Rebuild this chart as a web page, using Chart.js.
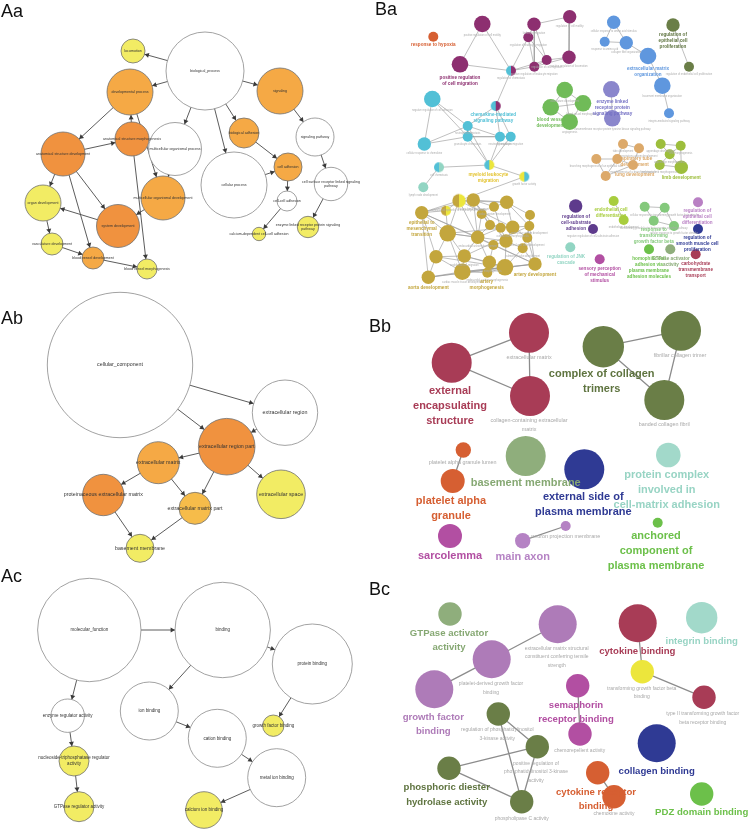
<!DOCTYPE html>
<html><head><meta charset="utf-8">
<script src="https://cdn.jsdelivr.net/npm/chart.js@4.4.0/dist/chart.umd.min.js"></script>
<style>
html,body{margin:0;padding:0;background:#fff;}
#wrap{position:relative;width:753px;height:829px;overflow:hidden;background:#fff;}
#c{position:absolute;left:0;top:0;}
.pl{position:absolute;font-family:"Liberation Sans",Arial,sans-serif;font-size:18px;line-height:18px;color:#111;}
</style></head><body>
<div id="wrap">
<canvas id="c" width="753" height="829"></canvas>
<div class="pl" style="left:1px;top:2px">Aa</div>
<div class="pl" style="left:375px;top:0px">Ba</div>
<div class="pl" style="left:1px;top:309px">Ab</div>
<div class="pl" style="left:369px;top:317px">Bb</div>
<div class="pl" style="left:1px;top:567px">Ac</div>
<div class="pl" style="left:369px;top:580px">Bc</div>
</div>
<script>
// ================= DATA =================
// Node rows: [term, layoutX, layoutY, size, colourGroup, secondColourGroup?]

// ---- Aa : GO biological process (BiNGO) ----
const aaNodes = [
 ['biological_process', 205, 71, 39, 'white'],
 ['locomotion', 133, 51, 12, 'yellow'],
 ['developmental process', 130, 92, 23, 'orangeL'],
 ['signaling', 280, 91, 23, 'orangeL'],
 ['biological adhesion', 244, 133, 15, 'orangeL'],
 ['signaling pathway', 315, 137, 19, 'white'],
 ['anatomical structure morphogenesis', 132, 139, 17, 'orangeD'],
 ['multicellular organismal process', 175, 149, 26.5, 'white'],
 ['anatomical structure development', 63, 154, 22, 'orangeD'],
 ['cellular process', 234, 185, 33, 'white'],
 ['cell adhesion', 288, 167, 14, 'orangeL'],
 ['cell surface receptor linked signaling\npathway', 331, 184, 16.7, 'white'],
 ['multicellular organismal development', 163, 198, 22, 'orangeL'],
 ['organ development', 43, 203, 18, 'yellow'],
 ['cell-cell adhesion', 287, 201, 10, 'white'],
 ['system development', 118, 226, 21.5, 'orangeD'],
 ['enzyme linked receptor protein signaling\npathway', 308, 227, 10.7, 'yellow'],
 ['calcium-dependent cell-cell adhesion', 259, 234, 6.7, 'yellow'],
 ['vasculature development', 52, 244, 11, 'yellow'],
 ['blood vessel development', 93, 258, 11, 'orangeL'],
 ['blood vessel morphogenesis', 147, 269, 10, 'yellow']
];
const aaEdges = [[0,1],[0,2],[0,3],[0,4],[0,7],[0,9],[2,8],[6,2],[2,12],[8,6],[8,13],[8,15],[8,19],
 [6,20],[12,15],[15,13],[13,18],[18,19],[19,20],[7,12],[9,10],[4,10],[10,14],[14,17],[3,5],[5,11],[11,16]];

// ---- Ab : GO cellular component (BiNGO) ----
const abNodes = [
 ['cellular_component', 120, 365, 72.7, 'white'],
 ['extracellular region', 285, 412.7, 32.7, 'white'],
 ['extracellular region part', 226.7, 446.7, 28.3, 'orangeD'],
 ['extracellular matrix', 158.3, 462.7, 21, 'orangeL'],
 ['proteinaceous extracellular matrix', 103.3, 495, 20.7, 'orangeD'],
 ['extracellular matrix part', 195, 508.3, 16, 'orangeY'],
 ['extracellular space', 281, 494.3, 24.3, 'yellow'],
 ['basement membrane', 140, 548.3, 14, 'yellow']
];
const abEdges = [[0,1],[0,2],[1,2],[2,3],[2,5],[2,6],[3,4],[3,5],[4,7],[5,7]];

// ---- Ac : GO molecular function (BiNGO) ----
const acNodes = [
 ['molecular_function', 89.3, 630, 51.7, 'white'],
 ['binding', 222.7, 630, 47.7, 'white'],
 ['protein binding', 312.3, 664, 40, 'white'],
 ['enzyme regulator activity', 67.7, 715.7, 16.7, 'white'],
 ['nucleoside-triphosphatase regulator\nactivity', 74, 761, 15, 'yellow'],
 ['GTPase regulator activity', 79, 806.7, 15, 'yellow'],
 ['ion binding', 149.3, 711, 29, 'white'],
 ['cation binding', 217.3, 738.3, 29, 'white'],
 ['metal ion binding', 276.7, 777.7, 29, 'white'],
 ['calcium ion binding', 204, 810, 18.3, 'yellow'],
 ['growth factor binding', 273.3, 725.7, 10.7, 'yellow']
];
const acEdges = [[0,1],[0,3],[3,4],[4,5],[1,2],[1,6],[6,7],[7,8],[8,9],[2,10]];

// ---- Ba : ClueGO biological process ----
const baNodes = [
 ['response to hypoxia', 433.3, 36.7, 5, 'rust'],
 ['positive regulation of cell motility', 482.3, 24, 8.3, 'plum'],
 ['positive regulation of cell migration', 460, 64.3, 8.3, 'plum'],
 ['leukocyte migration', 534, 24.3, 6.7, 'plum'],
 ['regulation of leukocyte migration', 528.3, 37.3, 5, 'plum'],
 ['positive regulation of leukocyte migration', 534.3, 66.7, 5, 'plum'],
 ['regulation of cell migration', 546.7, 60, 5, 'plum'],
 ['regulation of cell motility', 569.7, 16.7, 6.7, 'plum'],
 ['positive regulation of locomotion', 569, 57.3, 6.7, 'plum'],
 ['regulation of chemotaxis', 511, 70.7, 5, 'cyan', 'plum'],
 ['chemokine-mediated signaling pathway', 495.7, 106, 5, 'cyan', 'plum'],
 ['negative regulation of cell adhesion', 432.3, 99, 8.3, 'cyan'],
 ['cellular response to chemokine', 424.3, 144, 6.7, 'cyan'],
 ['neutrophil chemotaxis', 467.7, 126, 5, 'cyan'],
 ['granulocyte chemotaxis', 467.7, 136.7, 5, 'cyan'],
 ['neutrophil migration', 500, 136.7, 5, 'cyan'],
 ['granulocyte migration', 510.7, 136.7, 5, 'cyan'],
 ['cell chemotaxis', 439, 167.3, 5, 'cyan', 'teal'],
 ['lymph node development', 423.3, 187.3, 5, 'teal'],
 ['myeloid leukocyte migration', 489.3, 165, 5, 'cyan', 'yellowB'],
 ['growth factor activity', 524.3, 176.7, 5, 'yellowB', 'cyan'],
 ['cellular response to amino acid stimulus', 613.7, 22.3, 6.7, 'blue'],
 ['response to amino acid', 604.7, 41.7, 5, 'blue'],
 ['collagen fibril organization', 626.3, 42.7, 6.7, 'blue'],
 ['extracellular matrix organization', 648, 56, 8.3, 'blue'],
 ['basement membrane organization', 662.3, 85.7, 8.3, 'blue'],
 ['integrin-mediated signaling pathway', 669, 113.3, 5, 'blue'],
 ['regulation of epithelial cell proliferation', 673, 25, 6.7, 'olive'],
 ['regulation of endothelial cell proliferation', 689, 66.7, 5, 'olive'],
 ['enzyme linked receptor protein signaling pathway', 611.3, 89.3, 8.3, 'lavender'],
 ['transmembrane receptor protein tyrosine kinase signaling pathway', 612.3, 118.3, 8.3, 'lavender'],
 ['blood vessel development', 550.7, 107.3, 8.3, 'grass'],
 ['vasculature development', 564.7, 90, 8.3, 'grass'],
 ['blood vessel morphogenesis', 583, 103.3, 8.3, 'grass'],
 ['angiogenesis', 569.7, 121.7, 8.3, 'grass'],
 ['tube development', 623, 144, 5, 'tan'],
 ['respiratory system development', 639, 148.3, 5, 'tan'],
 ['branching morphogenesis of an epithelial tube', 596.3, 159, 5, 'tan'],
 ['respiratory tube development', 617.3, 159, 5, 'tan'],
 ['morphogenesis of a branching structure', 633, 165, 5, 'tan'],
 ['lung development', 605.7, 176, 5, 'tan'],
 ['appendage development', 660.7, 144, 5, 'lime'],
 ['limb morphogenesis', 680.7, 145.7, 5, 'lime'],
 ['appendage morphogenesis', 669.7, 154.3, 5, 'lime'],
 ['embryonic limb morphogenesis', 659.7, 165, 5, 'lime'],
 ['limb development', 681.3, 167.3, 6.7, 'lime'],
 ['endothelial cell differentiation', 613.7, 201, 5, 'lime2'],
 ['endothelium development', 623.7, 220, 5, 'lime2'],
 ['response to transforming growth factor beta', 644.7, 206.7, 5, 'lightgreen'],
 ['cellular response to transforming growth factor beta stimulus', 664.7, 207.7, 5, 'lightgreen'],
 ['transforming growth factor beta receptor signaling pathway', 653.7, 220.7, 5, 'lightgreen'],
 ['cellular response to growth factor stimulus', 674, 226, 5, 'lightgreen'],
 ['regulation of cell-substrate adhesion', 575.7, 206, 6.7, 'darkpurple'],
 ['negative regulation of cell-substrate adhesion', 593, 229, 5, 'darkpurple'],
 ['regulation of epithelial cell differentiation', 698, 202.3, 5, 'orchid'],
 ['regulation of smooth muscle cell proliferation', 698, 229, 5, 'navy'],
 ['carbohydrate transmembrane transport', 695.7, 254.3, 5, 'crimson'],
 ['regulation of JNK cascade', 570.3, 247.3, 5, 'teal'],
 ['sensory perception of mechanical stimulus', 599.7, 259.3, 5, 'magenta'],
 ['homophilic cell adhesion via plasma membrane adhesion molecules', 649, 249.3, 5, 'green'],
 ['GTPase activator activity', 670.3, 249.3, 5, 'sage']
];
const baEdges = [[1,2],[1,9],[2,9],[3,4],[3,7],[3,6],[4,6],[4,5],[5,6],[6,8],[7,8],[4,9],[5,9],[3,5],[6,9],[5,8],
 [9,10],[10,13],[10,15],[10,16],[11,12],[11,13],[11,14],[12,14],[12,13],[13,14],[13,15],[14,15],[14,16],[15,16],
 [14,19],[15,19],[16,19],[13,19],[17,19],[17,18],[19,20],
 [21,22],[21,23],[22,23],[23,24],[24,25],[25,26],[27,28],[29,30],
 [31,32],[31,33],[31,34],[32,33],[32,34],[33,34],
 [35,36],[35,38],[36,39],[37,38],[38,39],[37,40],[38,40],[39,40],
 [41,42],[41,43],[42,43],[43,44],[43,45],[44,45],[42,45],[46,47],
 [48,49],[48,50],[49,50],[50,51],[49,51]];
const baGreyTerms = [1,3,4,5,6,7,8,9,11,12,13,14,15,16,17,18,20,21,22,23,25,26,28,30,32,33,34,35,36,37,39,41,42,43,44,47,49,50,51,53];

const baGold = [
 ['epithelial to mesenchymal transition', 421.7, 212.7, 6.7, 'gold'],
 ['regulation of epithelial to mesenchymal transition', 459, 200.7, 6.7, 'gold', 'yellowB'],
 ['mesenchyme development', 473.3, 200, 6.7, 'gold'],
 ['positive regulation of epithelial to mesenchymal transition', 446, 210.7, 5, 'gold', 'yellowB'],
 ['heart morphogenesis', 481.7, 214, 5, 'gold'],
 ['cardiac septum development', 494, 206.7, 5, 'gold'],
 ['heart development', 506.7, 202.3, 6.7, 'gold'],
 ['cardiac chamber development', 530, 215, 5, 'gold'],
 ['mesenchymal cell differentiation', 447.7, 233.3, 8.3, 'gold'],
 ['endocardial cushion development', 477.7, 237.3, 6.7, 'gold'],
 ['cardiac valve development', 490, 225, 5, 'gold'],
 ['heart valve morphogenesis', 500.7, 227.7, 5, 'gold'],
 ['outflow tract morphogenesis', 512.7, 227.3, 6.7, 'gold'],
 ['ventricular septum development', 529.3, 226, 5, 'gold'],
 ['cardiac septum morphogenesis', 506, 241, 6.7, 'gold'],
 ['aortic valve development', 493.3, 245, 5, 'gold'],
 ['semi-lunar valve development', 527.3, 237.7, 5, 'gold'],
 ['pulmonary valve development', 522.7, 248.3, 5, 'gold'],
 ['epithelial cell migration', 436, 256.7, 6.7, 'gold'],
 ['endothelial cell migration', 464.3, 256, 6.7, 'gold'],
 ['aorta morphogenesis', 489.3, 262.3, 6.7, 'gold'],
 ['artery morphogenesis', 505, 267.3, 8.3, 'gold'],
 ['artery development', 535, 264, 6.7, 'gold'],
 ['endocardial cushion morphogenesis', 487.3, 272.7, 5, 'gold'],
 ['aorta development', 428.3, 277.3, 6.7, 'gold'],
 ['cardiac muscle tissue development', 462.3, 271.7, 8.3, 'gold']
];
const baGoldEdges = [[0,1],[0,2],[0,8],[0,18],[0,24],[0,9],[0,3],[1,2],[1,3],[1,8],[1,6],[1,9],[2,5],[2,6],[2,9],[2,10],
 [3,8],[4,10],[4,9],[5,6],[5,11],[6,7],[6,12],[6,13],[7,13],[7,16],[8,9],[8,18],[8,19],[8,25],[8,14],[9,10],[9,11],
 [9,19],[9,20],[10,11],[10,12],[11,12],[11,14],[12,13],[12,14],[12,16],[13,16],[13,22],[14,15],[14,17],[14,21],
 [15,20],[16,17],[16,22],[17,22],[17,21],[18,19],[18,24],[18,25],[19,20],[19,25],[19,21],[20,21],[20,23],[21,22],
 [21,23],[21,25],[23,25],[24,25],[24,21],[18,21],[0,22],[24,22],[1,12],[2,14],[8,12],[9,22],[19,13],[25,22]];
const baCrossEdges = [[20, 1]]; // growth factor activity -> gold cluster
const baGoldGreyTerms = [1,2,5,9,12,13,16,17,19,20,23,25];

const baGroupLabels = [
 ['response to hypoxia', 433.3, 45, 'rust'],
 ['positive regulation\nof cell migration', 460, 77.3, 'plum'],
 ['chemokine-mediated\nsignaling pathway', 493.3, 115, 'cyan'],
 ['blood vessel\ndevelopment', 550.7, 119.3, 'grass'],
 ['extracellular matrix\norganization', 648, 68.3, 'blue'],
 ['regulation of\nepithelial cell\nproliferation', 673, 35, 'olive'],
 ['enzyme linked\nreceptor protein\nsignaling pathway', 612.3, 101.7, 'lavender'],
 ['myeloid leukocyte\nmigration', 488.3, 174.3, 'yellowT'],
 ['epithelial to\nmesenchymal\ntransition', 421.7, 222.7, 'gold'],
 ['aorta development', 428.3, 287.3, 'gold'],
 ['artery\nmorphogenesis', 486.7, 281.7, 'gold'],
 ['artery development', 535, 274.3, 'gold'],
 ['respiratory tube\ndevelopment', 634.7, 158.3, 'tan'],
 ['lung development', 634.7, 174.3, 'tan'],
 ['limb development', 681.3, 177.7, 'lime'],
 ['endothelial cell\ndifferentiation', 611, 210, 'lime2'],
 ['response to\ntransforming\ngrowth factor beta', 653.7, 230, 'lightgreen'],
 ['regulation of\ncell-substrate\nadhesion', 576, 216.7, 'darkpurple'],
 ['regulation of\nepithelial cell\ndifferentiation', 697.3, 211, 'orchid'],
 ['regulation of\nsmooth muscle cell\nproliferation', 697.3, 237.3, 'navy'],
 ['carbohydrate\ntransmembrane\ntransport', 695.7, 263.3, 'crimson'],
 ['regulation of JNK\ncascade', 566, 256.7, 'teal'],
 ['sensory perception\nof mechanical\nstimulus', 599.7, 268.3, 'magenta'],
 ['homophilic cell\nadhesion via\nplasma membrane\nadhesion molecules', 649, 258.3, 'green'],
 ['GTPase activator\nactivity', 671, 258.3, 'sage']
];

// ---- Bb : ClueGO cellular component ----
const bbNodes = [
 ['external encapsulating structure', 451.7, 362.7, 20, 'crimson'],
 ['extracellular matrix', 529, 332.7, 20, 'crimson'],
 ['collagen-containing extracellular matrix', 530, 396, 20, 'crimson'],
 ['complex of collagen trimers', 603.3, 346.7, 20.7, 'olive'],
 ['fibrillar collagen trimer', 681, 330.7, 20, 'olive'],
 ['banded collagen fibril', 664.3, 400, 20, 'olive'],
 ['platelet alpha granule lumen', 463.3, 450, 7.7, 'rust'],
 ['platelet alpha granule', 452.7, 481, 12, 'rust'],
 ['basement membrane', 525.7, 456, 20, 'sage'],
 ['external side of plasma membrane', 584.3, 469.3, 20, 'navy'],
 ['protein complex involved in cell-matrix adhesion', 668.3, 455, 12.3, 'mint'],
 ['sarcolemma', 450, 536, 12, 'magenta'],
 ['main axon', 522.7, 540.7, 7.7, 'lilac'],
 ['neuron projection membrane', 565.7, 526, 5, 'lilac'],
 ['anchored component of plasma membrane', 657.7, 522.7, 5, 'green']
];
const bbEdges = [[0,1],[0,2],[1,2],[3,4],[3,5],[4,5],[6,7],[12,13]];
const bbGroupLabels = [
 ['external\nencapsulating\nstructure', 450, 390.7, 'crimson'],
 ['complex of collagen\ntrimers', 601.7, 374.3, 'olive'],
 ['platelet alpha\ngranule', 451, 501, 'rust'],
 ['basement membrane', 525.7, 483.3, 'sage'],
 ['external side of\nplasma membrane', 583.3, 497.3, 'navy'],
 ['protein complex\ninvolved in\ncell-matrix adhesion', 666.7, 475, 'mint'],
 ['sarcolemma', 450, 555.7, 'magenta'],
 ['main axon', 522.7, 556.7, 'lilac'],
 ['anchored\ncomponent of\nplasma membrane', 656, 535.7, 'green']
];
const bbTermLabels = [
 ['extracellular matrix', 529, 357.7],
 ['collagen-containing extracellular\nmatrix', 529, 421],
 ['fibrillar collagen trimer', 680, 355.7],
 ['banded collagen fibril', 664.3, 425],
 ['platelet alpha granule lumen', 462.7, 462.7],
 ['neuron projection membrane', 565.7, 536.7]
];

// ---- Bc : ClueGO molecular function ----
const bcNodes = [
 ['GTPase activator activity', 450, 614, 11.7, 'sage'],
 ['extracellular matrix structural constituent conferring tensile strength', 557.7, 624.3, 19, 'violet'],
 ['platelet-derived growth factor binding', 491.7, 659.3, 19, 'violet'],
 ['growth factor binding', 434.3, 689.3, 19, 'violet'],
 ['semaphorin receptor binding', 577.7, 685.7, 11.7, 'magenta'],
 ['chemorepellent activity', 580, 734, 11.7, 'magenta'],
 ['cytokine binding', 637.7, 623.3, 19, 'crimson'],
 ['transforming growth factor beta binding', 642.3, 671.7, 11.7, 'yellowB'],
 ['type II transforming growth factor beta receptor binding', 704, 697.3, 11.7, 'crimson'],
 ['integrin binding', 701.7, 617.7, 15.7, 'mint'],
 ['collagen binding', 656.7, 743.3, 19, 'navy'],
 ['PDZ domain binding', 701.7, 794, 11.7, 'green'],
 ['cytokine receptor binding', 597.7, 772.7, 11.7, 'rust'],
 ['chemokine activity', 614, 796.7, 11.7, 'rust'],
 ['regulation of phosphatidylinositol 3-kinase activity', 498.3, 714, 11.7, 'olive'],
 ['positive regulation of phosphatidylinositol 3-kinase activity', 537.3, 746.7, 11.7, 'olive'],
 ['phosphoric diester hydrolase activity', 449, 768.3, 11.7, 'olive'],
 ['phospholipase C activity', 521.7, 801.7, 11.7, 'olive']
];
const bcEdges = [[1,2],[2,3],[6,7],[7,8],[4,5],[14,15],[14,17],[15,16],[15,17],[16,17],[12,13]];
const bcGroupLabels = [
 ['GTPase activator\nactivity', 449, 633.3, 'sage'],
 ['growth factor\nbinding', 433.3, 717.3, 'violet'],
 ['semaphorin\nreceptor binding', 576, 705, 'magenta'],
 ['cytokine binding', 637.3, 651, 'crimson'],
 ['integrin binding', 701.7, 641, 'mint'],
 ['collagen binding', 656.7, 771, 'navy'],
 ['PDZ domain binding', 701.7, 812.7, 'green'],
 ['cytokine receptor\nbinding', 596, 792.3, 'rust'],
 ['phosphoric diester\nhydrolase activity', 446.7, 787.7, 'olive']
];
const bcTermLabels = [
 ['extracellular matrix structural\nconstituent conferring tensile\nstrength', 556.7, 648.3],
 ['platelet-derived growth factor\nbinding', 491, 684],
 ['transforming growth factor beta\nbinding', 641.7, 688.3],
 ['type II transforming growth factor\nbeta receptor binding', 702.7, 714],
 ['regulation of phosphatidylinositol\n3-kinase activity', 497.3, 730],
 ['chemorepellent activity', 579.7, 750.7],
 ['positive regulation of\nphosphatidylinositol 3-kinase\nactivity', 536, 763.3],
 ['phospholipase C activity', 521.7, 818.3],
 ['chemokine activity', 614, 814]
];

// ================= STYLE =================
const palette = {
 white:'#ffffff', yellow:'#f2ec64', orangeL:'#f5a945', orangeD:'#f0923f', orangeY:'#f6bc4a',
 crimson:'#a83c56', olive:'#6a7e47', rust:'#d65f32', sage:'#8fae7c', navy:'#2f3a94', mint:'#a2d9ca',
 magenta:'#b24fa2', lilac:'#b582c4', green:'#6cc04a', violet:'#ae7bb8', yellowB:'#ece63c',
 plum:'#8d2f70', cyan:'#52c0d6', blue:'#5f97de', lavender:'#8a86cc', grass:'#70bb58', tan:'#dca96a',
 lime:'#9dbe3c', lime2:'#a8cd3e', lightgreen:'#84c97c', darkpurple:'#5e3b8c', gold:'#c3a63d',
 teal:'#92d5c3', orchid:'#b980c4', yellowT:'#e3c22c'
};
const textPalette = Object.assign({}, palette, {lavender:'#7470c4', mint:'#98d4c4', sage:'#86a873', olive:'#5f7440'});
const FONT = '"Liberation Sans", Arial, Helvetica, sans-serif';

function pieImage(r, c1, c2) {
  const s = Math.ceil(r * 2) + 2, cv = document.createElement('canvas');
  cv.width = s; cv.height = s;
  const g = cv.getContext('2d'), c = s / 2;
  g.fillStyle = c1; g.beginPath(); g.moveTo(c, c); g.arc(c, c, r, Math.PI / 2, Math.PI * 1.5); g.fill();
  g.fillStyle = c2; g.beginPath(); g.moveTo(c, c); g.arc(c, c, r, -Math.PI / 2, Math.PI / 2); g.fill();
  return cv;
}
function nodeDataset(nodes, bordered) {
  return {
    type: 'bubble', order: 1, clip: false,
    data: nodes.map(n => ({x: n[1], y: n[2], r: n[3]})),
    backgroundColor: nodes.map(n => palette[n[4]]),
    borderColor: nodes.map(n => n[4] === 'white' ? '#8a8a8a' : '#707070'),
    borderWidth: bordered ? 0.8 : 0,
    pointStyle: nodes.map(n => n[5] ? pieImage(n[3], palette[n[4]], palette[n[5]]) : 'circle')
  };
}
function segments(pairs) {
  const d = [];
  pairs.forEach(([a, b]) => d.push({x: a[1], y: a[2]}, {x: b[1], y: b[2]}, {x: null, y: null}));
  return d;
}
const pairsOf = (nodes, edges) => edges.map(([i, j]) => [nodes[i], nodes[j]]);
function edgeDataset(pairs, color, width) {
  return {type: 'line', order: 5, data: segments(pairs), borderColor: color, borderWidth: width,
          pointRadius: 0, spanGaps: false, fill: false, tension: 0};
}
const ARROW = 2.9;
function arrowDataset(nodes, edges) {
  const pts = edges.map(([i, j]) => {
    const A = nodes[i], B = nodes[j];
    const dx = B[1] - A[1], dy = B[2] - A[2], len = Math.hypot(dx, dy), d = B[3] + ARROW;
    return {x: B[1] - dx / len * d, y: B[2] - dy / len * d, rot: Math.atan2(dy, dx) * 180 / Math.PI + 90};
  });
  return {type: 'line', order: 3, showLine: false, data: pts.map(p => ({x: p.x, y: p.y})),
          pointStyle: 'triangle', pointRadius: ARROW, pointRotation: pts.map(p => p.rot),
          pointBackgroundColor: '#3a3a3a', pointBorderColor: '#3a3a3a', pointBorderWidth: 0};
}

// text layers drawn through the chart's scales
const textLayers = [
  {items: aaNodes.map(n => [n[0], n[1], n[2]]), size: 3.6, lh: 4.8, weight: 'normal', color: () => '#333', centre: true},
  {items: abNodes.map(n => [n[0], n[1], n[2]]), size: 5.3, lh: 6.5, weight: 'normal', color: () => '#333', centre: true},
  {items: acNodes.map(n => [n[0], n[1], n[2]]), size: 4.5, lh: 6.3, weight: 'normal', color: () => '#333', centre: true},
  {items: baGreyTerms.map(i => { const n = baNodes[i]; return [n[0], n[1], n[2] + n[3] + 2.5]; })
     .concat(baGoldGreyTerms.map(i => { const n = baGold[i]; return [n[0], n[1], n[2] + n[3] + 2.5]; })),
   size: 2.6, lh: 3.2, weight: 'normal', color: () => '#ababab'},
  {items: baGroupLabels, size: 4.6, lh: 6, weight: 'bold', color: it => textPalette[it[3]]},
  {items: bbTermLabels, size: 5.4, lh: 9, weight: 'normal', color: () => '#a8a8a8'},
  {items: bbGroupLabels, size: 11, lh: 15, weight: 'bold', color: it => textPalette[it[3]]},
  {items: bcTermLabels, size: 5, lh: 8.7, weight: 'normal', color: () => '#a8a8a8'},
  {items: bcGroupLabels, size: 9.6, lh: 14.3, weight: 'bold', color: it => textPalette[it[3]]}
];
const labelPlugin = {
  id: 'termLabels',
  afterDatasetsDraw(chart) {
    const {ctx, scales: {x, y}} = chart;
    ctx.save(); ctx.textAlign = 'center'; ctx.textBaseline = 'middle';
    textLayers.forEach(layer => {
      ctx.font = `${layer.weight} ${layer.size}px ${FONT}`;
      layer.items.forEach(it => {
        const lines = it[0].split('\n');
        const px = x.getPixelForValue(it[1]);
        let py = y.getPixelForValue(it[2]);
        if (layer.centre) py -= (lines.length - 1) * layer.lh / 2;
        ctx.fillStyle = layer.color(it);
        lines.forEach((ln, k) => ctx.fillText(ln, px, py + k * layer.lh));
      });
    });
    ctx.restore();
  }
};

const datasets = [
  edgeDataset(pairsOf(aaNodes, aaEdges).concat(pairsOf(abNodes, abEdges), pairsOf(acNodes, acEdges)), '#4a4a4a', 0.9),
  edgeDataset(pairsOf(bbNodes, bbEdges).concat(pairsOf(bcNodes, bcEdges)), '#8c8c8c', 1.3),
  edgeDataset(pairsOf(baNodes, baEdges).concat(pairsOf(baGold, baGoldEdges),
      baCrossEdges.map(([i, j]) => [baNodes[i], baGold[j]])), '#939393', 0.6),
  arrowDataset(aaNodes, aaEdges), arrowDataset(abNodes, abEdges), arrowDataset(acNodes, acEdges),
  nodeDataset(aaNodes, true), nodeDataset(abNodes, true), nodeDataset(acNodes, true),
  nodeDataset(baNodes, false), nodeDataset(baGold, false), nodeDataset(bbNodes, false), nodeDataset(bcNodes, false)
];

new Chart(document.getElementById('c'), {
  type: 'bubble',
  data: {datasets},
  options: {
    responsive: false, animation: false, devicePixelRatio: 1, events: [],
    layout: {padding: 0, autoPadding: false},
    plugins: {legend: {display: false}, tooltip: {enabled: false}},
    scales: {
      x: {type: 'linear', min: 0, max: 753, display: false},
      y: {type: 'linear', min: 0, max: 829, reverse: true, display: false}
    }
  },
  plugins: [labelPlugin]
});
</script>
</body></html>
